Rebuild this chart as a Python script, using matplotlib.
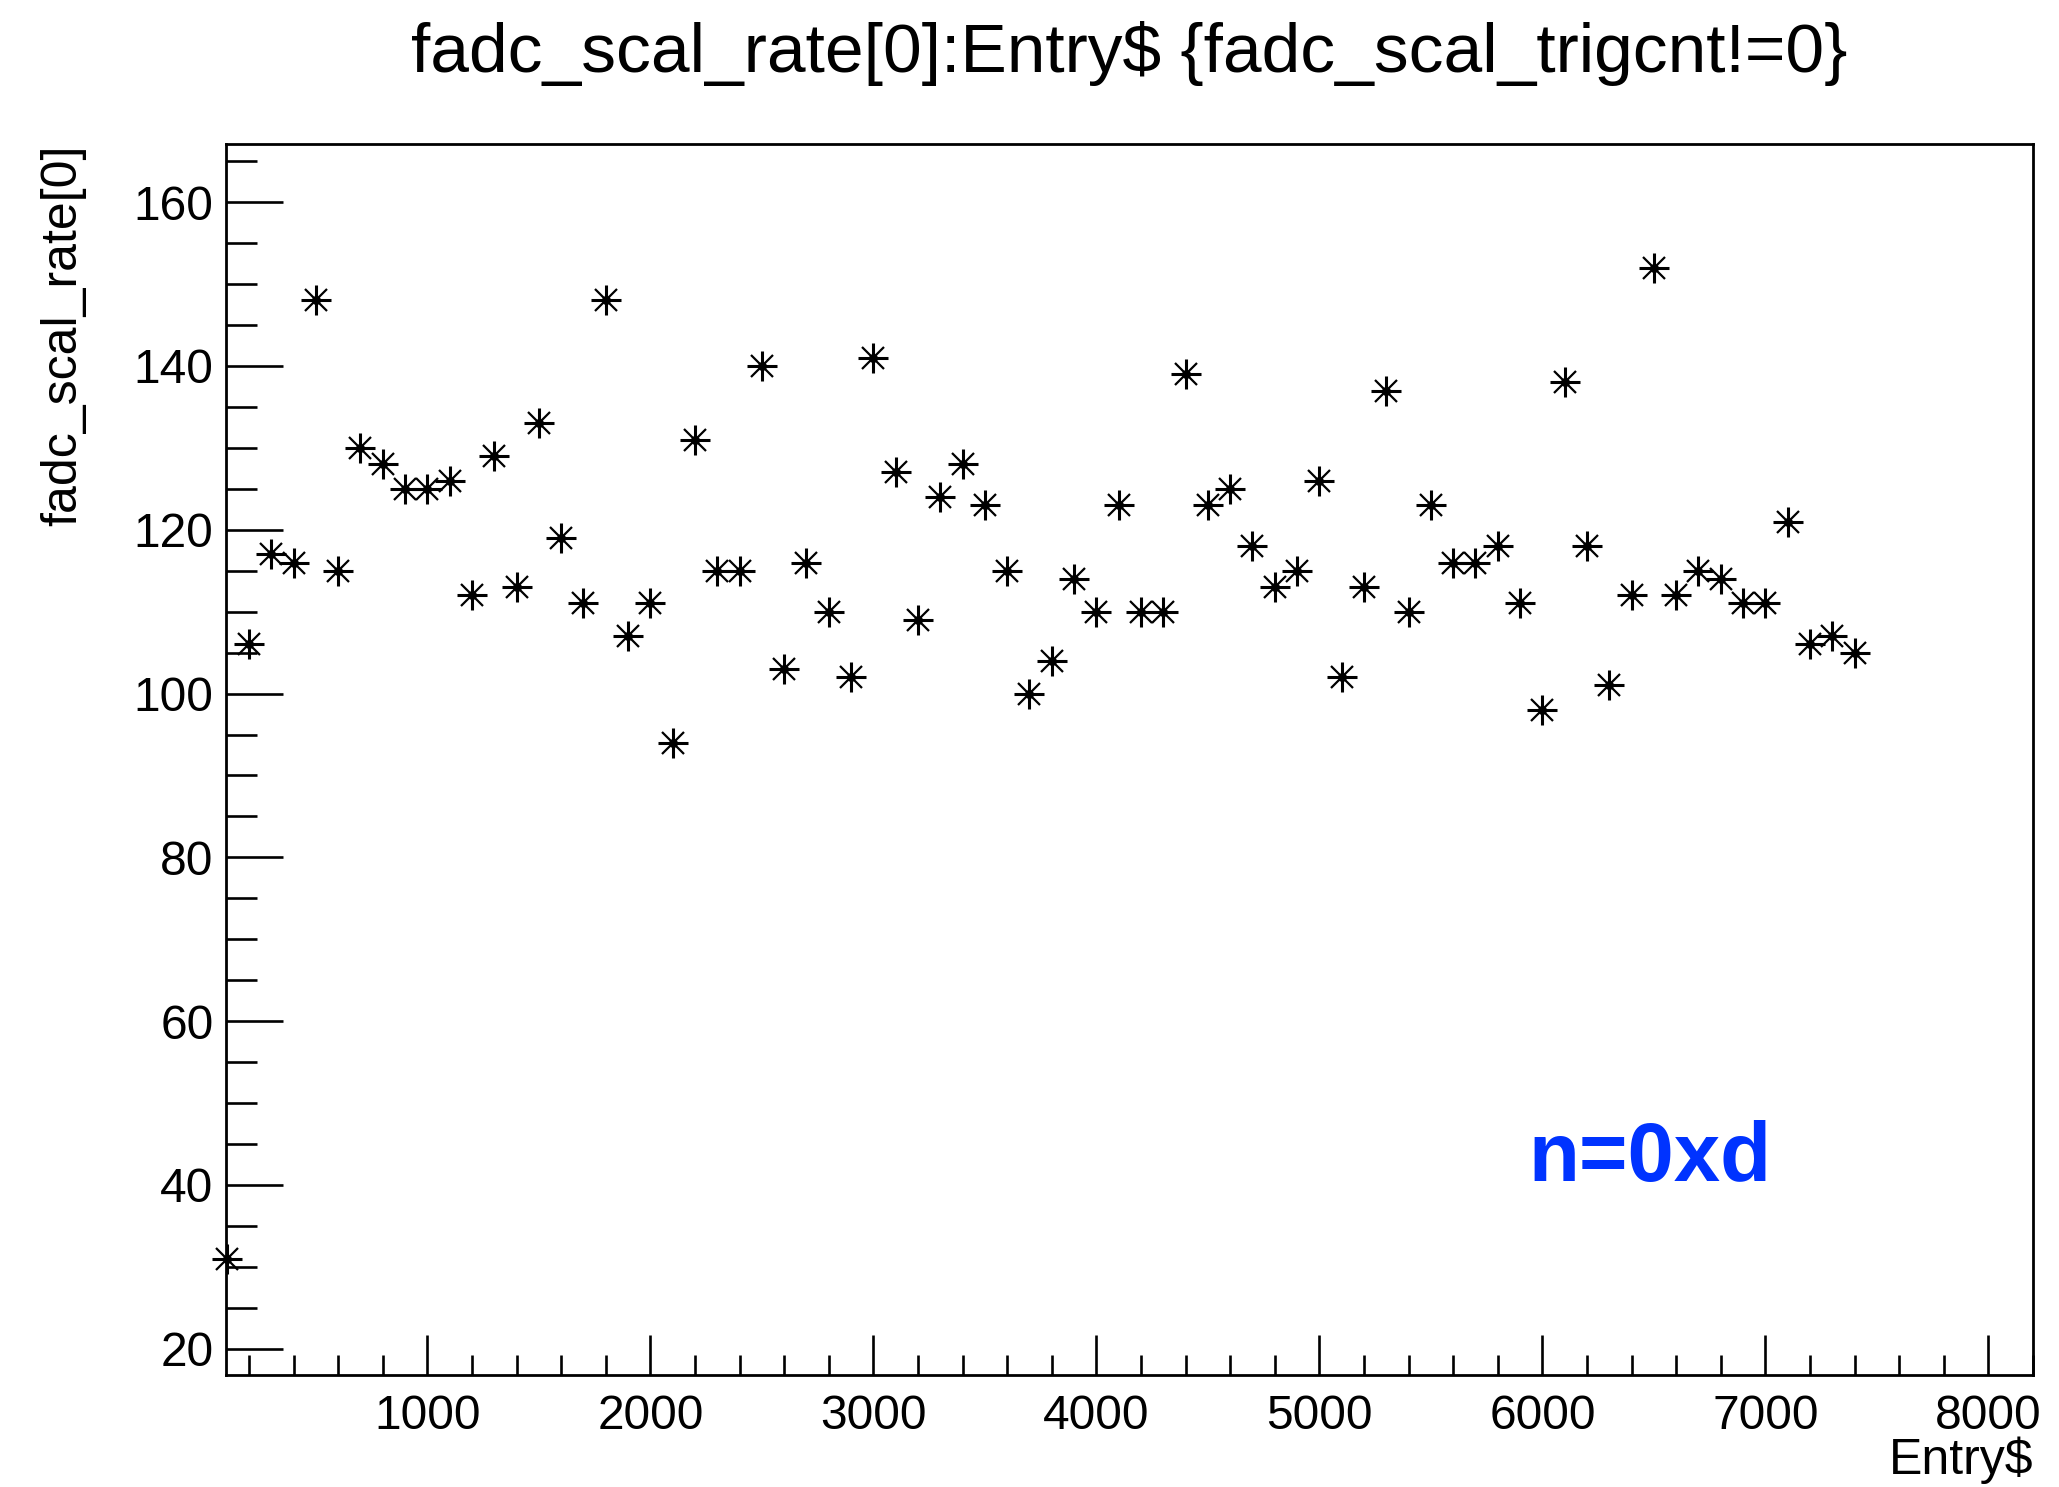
import matplotlib
matplotlib.use("Agg")
import matplotlib.pyplot as plt
from matplotlib.ticker import MultipleLocator

plt.rcParams['font.family'] = ['Liberation Sans', 'DejaVu Sans']

W, H = 2059, 1487

# entry number and fadc_scal_rate[0]
entries = [100, 200, 300, 400, 500, 600, 700, 800, 900, 1000,
           1100, 1200, 1300, 1400, 1500, 1600, 1700, 1800, 1900, 2000,
           2100, 2200, 2300, 2400, 2500, 2600, 2700, 2800, 2900, 3000,
           3100, 3200, 3300, 3400, 3500, 3600, 3700, 3800, 3900, 4000,
           4100, 4200, 4300, 4400, 4500, 4600, 4700, 4800, 4900, 5000,
           5100, 5200, 5300, 5400, 5500, 5600, 5700, 5800, 5900, 6000,
           6100, 6200, 6300, 6400, 6500, 6600, 6700, 6800, 6900, 7000,
           7100, 7200, 7300, 7400]
rates = [31, 106, 117, 116, 148, 115, 130, 128, 125, 125,
         126, 112, 129, 113, 133, 119, 111, 148, 107, 111,
         94, 131, 115, 115, 140, 103, 116, 110, 102, 141,
         127, 109, 124, 128, 123, 115, 100, 104, 114, 110,
         123, 110, 110, 139, 123, 125, 118, 113, 115, 126,
         102, 113, 137, 110, 123, 116, 116, 118, 111, 98,
         138, 118, 101, 112, 152, 112, 115, 114, 111, 111,
         121, 106, 107, 105]

title = "fadc_scal_rate[0]:Entry$ {fadc_scal_trigcnt!=0}"
xlabel = "Entry$"
ylabel = "fadc_scal_rate[0]"
note = "n=0xd"

fig = plt.figure(figsize=(W / 100, H / 100), dpi=100)

# axes box in pixels: left 226, right 2033, top 144, bottom 1375
ax = fig.add_axes([226 / W, 1 - 1375 / H, (2033 - 226) / W, (1375 - 144) / H])

# ROOT style asterisk marker (style 3): cross + diagonal cross + centre dot
ax.plot(entries, rates, ls='none', marker='+', ms=22, mew=2.2, color='black', clip_on=False)
ax.plot(entries, rates, ls='none', marker='x', ms=15.5, mew=1.6, color='black', clip_on=False)
ax.plot(entries, rates, ls='none', marker='o', ms=6.5, color='black', mew=0, clip_on=False)

ax.set_xlim(97, 8200)
ax.set_ylim(16.8, 167.1)

ax.xaxis.set_major_locator(MultipleLocator(1000))
ax.xaxis.set_minor_locator(MultipleLocator(200))
ax.yaxis.set_major_locator(MultipleLocator(20))
ax.yaxis.set_minor_locator(MultipleLocator(5))

ax.tick_params(axis='both', which='both', direction='in', width=1.9,
               top=False, right=False, labelsize=34.5, colors='black')
ax.tick_params(axis='x', which='major', length=29, pad=14)
ax.tick_params(axis='x', which='minor', length=14.5)
ax.tick_params(axis='y', which='major', length=41, pad=9)
ax.tick_params(axis='y', which='minor', length=22.5)

for sp in ax.spines.values():
    sp.set_linewidth(2.0)

fig.text(1129 / W, 1 - 72 / H, title, ha='center', va='baseline', fontsize=50)
fig.text(2033 / W, 1 - 1474 / H, xlabel, ha='right', va='baseline', fontsize=36)
fig.text(63 / W, 1 - 144 / H, ylabel, ha='center', va='top', rotation=90, fontsize=36)
fig.text(1528 / W, 1 - 1181 / H, note, ha='left', va='baseline', fontsize=60,
         fontweight='bold', color='#0033ff')

fig.savefig("out.png", dpi=100)
